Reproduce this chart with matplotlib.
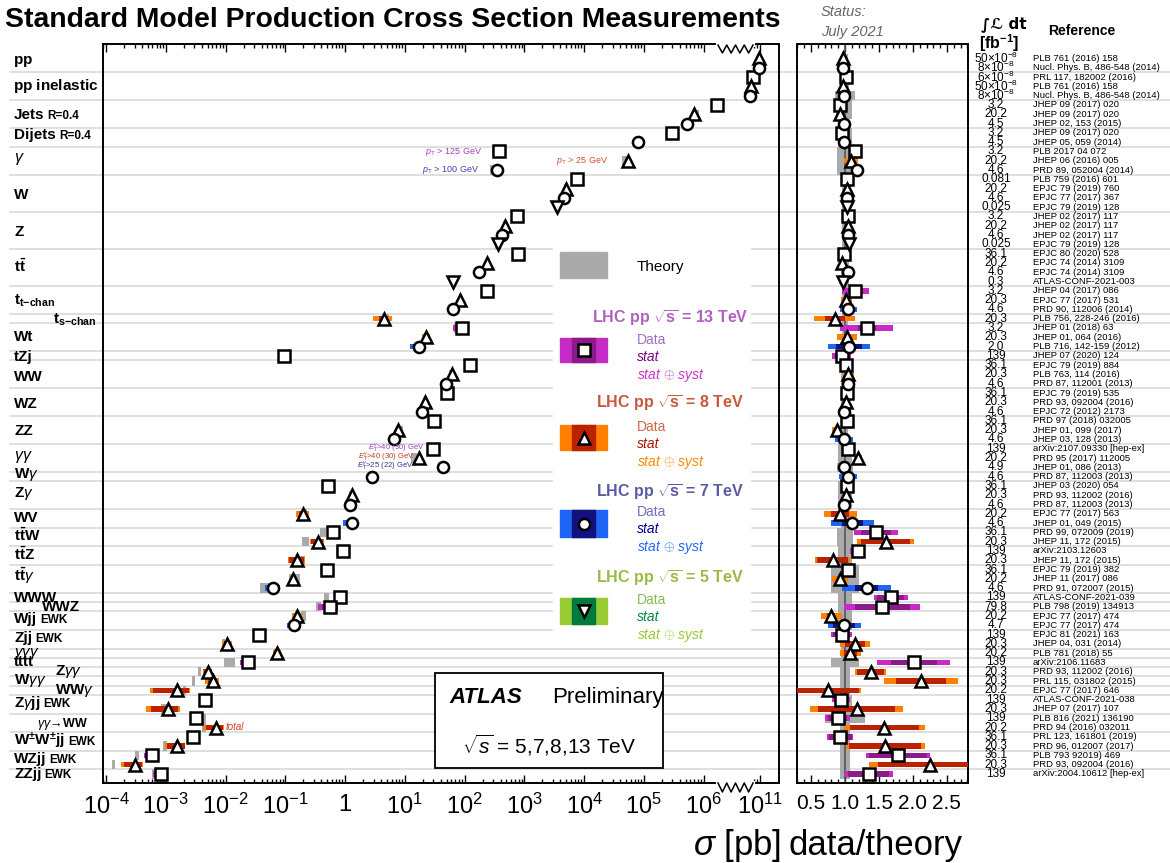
import numpy as np
import matplotlib
matplotlib.use("Agg")
import matplotlib.pyplot as plt
import matplotlib.transforms as mtransforms
from matplotlib import font_manager
from matplotlib.patches import Rectangle
from matplotlib.lines import Line2D
from matplotlib.ticker import FixedLocator, FixedFormatter, NullFormatter, MultipleLocator

# ---------------- data (one entry per measurement, top to bottom) ----------------
group_size = [2, 3, 3, 2, 3, 4, 4, 4, 3, 1, 3, 1, 3, 3, 3, 3, 1, 3, 2, 2, 2, 3,
              1, 1, 2, 2, 1, 1, 1, 1, 1, 2, 2, 2, 2, 1]

energy = [8, 7, 13, 8, 7, 13, 8, 7, 13, 7, 13, 8, 7, 13, 8, 7, 5, 13, 8, 7, 5,
          13, 8, 7, 5, 13, 8, 7, 8, 13, 8, 7, 13, 13, 8, 7, 13, 8, 7, 13, 8, 7,
          13, 8, 7, 7, 13, 8, 7, 8, 7, 13, 8, 13, 8, 13, 8, 7, 13, 13, 8, 7,
          13, 8, 8, 13, 8, 8, 8, 13, 8, 13, 8, 13, 8, 13, 8, 13]

# measured cross section [pb]
sigma = [9.6e10, 9.5e10, 7.8e10, 7.2e10, 6.9e10, 1.7e6, 6.9e5, 5.2e5, 2.9e5, 7.9e4,
         380, 5.4e4, 350, 7600, 5000, 4600, 3500, 760, 480, 430, 360,
         780, 240, 175, 65, 235, 84, 65, 4.5, 91, 23, 17, 0.095,
         123, 62, 49, 51, 22, 19, 31, 7.7, 6.6, 30, 17, 44, 2.8,
         0.52, 1.3, 1.2, 0.20, 1.3, 0.63, 0.35, 0.93, 0.16, 0.50, 0.135, 0.063,
         0.82, 0.56, 0.16, 0.14, 0.036, 0.0107, 0.073, 0.024, 0.0051, 0.0062,
         0.00155, 0.0046, 0.0011, 0.0032, 0.0069, 0.0029, 0.00155, 0.00059,
         0.00030, 0.00084]

# data / theory
ratio = [0.97, 0.975, 1.02, 0.975, 0.985, 0.93, 0.92, 0.99, 0.95, 0.99, 1.15, 1.09, 1.17,
         1.03, 1.03, 1.03, 1.03, 1.05, 1.05, 1.05, 1.06, 0.99, 0.95, 1.04, 0.97,
         1.15, 1.02, 1.05, 0.85, 1.32, 1.03, 1.06, 0.95, 1.02, 1.05, 1.05,
         1.03, 1.02, 0.99, 1.03, 0.88, 0.99, 1.05, 1.19, 0.99, 1.04, 1.03, 1.02, 0.99,
         0.93, 1.11, 1.46, 1.60, 1.19, 0.82, 1.05, 0.93, 1.32, 1.67, 1.55, 0.80, 0.99,
         0.95, 1.15, 1.08, 2.01, 1.38, 2.12, 0.75, 0.94, 1.17, 0.89, 1.58, 0.93,
         1.59, 1.78, 2.25, 1.35]

# total (stat+syst) and stat half-widths, in ratio units
tot_err = [0.03, 0.03, 0.03, 0.03, 0.03, 0.06, 0.05, 0.09, 0.06, 0.07, 0.06, 0.10, 0.07,
           0.03, 0.03, 0.03, 0.03, 0.03, 0.03, 0.03, 0.03, 0.04, 0.04, 0.04, 0.06,
           0.20, 0.08, 0.12, 0.30, 0.39, 0.15, 0.31, 0.14, 0.07, 0.08, 0.10,
           0.05, 0.05, 0.10, 0.05, 0.07, 0.13, 0.07, 0.06, 0.06, 0.13, 0.05, 0.06, 0.09,
           0.24, 0.32, 0.32, 0.42, 0.11, 0.26, 0.07, 0.12, 0.36, 0.25, 0.56, 0.15, 0.24,
           0.16, 0.22, 0.16, 0.54, 0.23, 0.55, 0.49, 0.13, 0.68, 0.19, 0.60, 0.19,
           0.58, 0.47, 0.90, 0.35]
stat_err = [0.01, 0.01, 0.01, 0.01, 0.01, 0.01, 0.01, 0.01, 0.01, 0.01, 0.01, 0.01, 0.01,
            0.005, 0.005, 0.005, 0.01, 0.005, 0.005, 0.005, 0.01, 0.01, 0.01, 0.01, 0.02,
            0.06, 0.02, 0.05, 0.15, 0.13, 0.04, 0.19, 0.09, 0.01, 0.02, 0.03,
            0.02, 0.02, 0.05, 0.02, 0.03, 0.07, 0.04, 0.02, 0.02, 0.05, 0.02, 0.02, 0.03,
            0.13, 0.16, 0.22, 0.36, 0.06, 0.23, 0.04, 0.04, 0.17, 0.20, 0.40, 0.06, 0.16,
            0.13, 0.15, 0.10, 0.34, 0.20, 0.37, 0.45, 0.10, 0.56, 0.14, 0.51, 0.17,
            0.53, 0.42, 0.76, 0.30]
# theory uncertainty half-width (relative)
theo_err = [0.05, 0.05, 0.05, 0.06, 0.15, 0.10, 0.10, 0.05, 0.10, 0.10, 0.12, 0.12, 0.12,
            0.04, 0.04, 0.04, 0.04, 0.04, 0.04, 0.04, 0.04, 0.06, 0.06, 0.06, 0.06,
            0.04, 0.04, 0.04, 0.04, 0.05, 0.05, 0.05, 0.05, 0.06, 0.06, 0.06,
            0.06, 0.06, 0.06, 0.05, 0.05, 0.05, 0.10, 0.10, 0.12, 0.08, 0.10, 0.10, 0.10,
            0.06, 0.06, 0.12, 0.12, 0.10, 0.10, 0.20, 0.20, 0.20, 0.10, 0.10, 0.10, 0.10,
            0.06, 0.06, 0.06, 0.20, 0.07, 0.07, 0.07, 0.10, 0.10, 0.30, 0.07, 0.07,
            0.07, 0.07, 0.07, 0.07]

lumi = [r'$\mathsf{50{\times}10^{-8}}$', r'$\mathsf{8{\times}10^{-8}}$', r'$\mathsf{6{\times}10^{-8}}$',
        r'$\mathsf{50{\times}10^{-8}}$', r'$\mathsf{8{\times}10^{-8}}$',
        '3.2', '20.2', '4.5', '3.2', '4.5', '3.2', '20.2', '4.6',
        '0.081', '20.2', '4.6', '0.025', '3.2', '20.2', '4.6', '0.025',
        '36.1', '20.2', '4.6', '0.3', '3.2', '20.3', '4.6', '20.3', '3.2', '20.3', '2.0',
        '139', '36.1', '20.3', '4.6', '36.1', '20.3', '4.6', '36.1', '20.3', '4.6',
        '139', '20.2', '4.9', '4.6', '36.1', '20.3', '4.6', '20.2', '4.6',
        '36.1', '20.3', '139', '20.3', '36.1', '20.2', '4.6', '139', '79.8',
        '20.2', '4.7', '139', '20.3', '20.2', '139', '20.3', '20.3', '20.2',
        '139', '20.3', '139', '20.2', '36.1', '20.3', '36.1', '20.3', '139']

refs = ['PLB 761 (2016) 158', 'Nucl. Phys. B, 486-548 (2014)', 'PRL 117, 182002 (2016)',
        'PLB 761 (2016) 158', 'Nucl. Phys. B, 486-548 (2014)', 'JHEP 09 (2017) 020',
        'JHEP 09 (2017) 020', 'JHEP 02, 153 (2015)', 'JHEP 09 (2017) 020', 'JHEP 05, 059 (2014)',
        'PLB 2017 04 072', 'JHEP 06 (2016) 005', 'PRD 89, 052004 (2014)', 'PLB 759 (2016) 601',
        'EPJC 79 (2019) 760', 'EPJC 77 (2017) 367', 'EPJC 79 (2019) 128', 'JHEP 02 (2017) 117',
        'JHEP 02 (2017) 117', 'JHEP 02 (2017) 117', 'EPJC 79 (2019) 128', 'EPJC 80 (2020) 528',
        'EPJC 74 (2014) 3109', 'EPJC 74 (2014) 3109', 'ATLAS-CONF-2021-003', 'JHEP 04 (2017) 086',
        'EPJC 77 (2017) 531', 'PRD 90, 112006 (2014)', 'PLB 756, 228-246 (2016)', 'JHEP 01 (2018) 63',
        'JHEP 01, 064 (2016)', 'PLB 716, 142-159 (2012)', 'JHEP 07 (2020) 124', 'EPJC 79 (2019) 884',
        'PLB 763, 114 (2016)', 'PRD 87, 112001 (2013)', 'EPJC 79 (2019) 535', 'PRD 93, 092004 (2016)',
        'EPJC 72 (2012) 2173', 'PRD 97 (2018) 032005', 'JHEP 01, 099 (2017)', 'JHEP 03, 128 (2013)',
        'arXiv:2107.09330 [hep-ex]', 'PRD 95 (2017) 112005', 'JHEP 01, 086 (2013)',
        'PRD 87, 112003 (2013)', 'JHEP 03 (2020) 054', 'PRD 93, 112002 (2016)',
        'PRD 87, 112003 (2013)', 'EPJC 77 (2017) 563', 'JHEP 01, 049 (2015)',
        'PRD 99, 072009 (2019)', 'JHEP 11, 172 (2015)', 'arXiv:2103.12603', 'JHEP 11, 172 (2015)',
        'EPJC 79 (2019) 382', 'JHEP 11 (2017) 086', 'PRD 91, 072007 (2015)', 'ATLAS-CONF-2021-039',
        'PLB 798 (2019) 134913', 'EPJC 77 (2017) 474', 'EPJC 77 (2017) 474', 'EPJC 81 (2021) 163',
        'JHEP 04, 031 (2014)', 'PLB 781 (2018) 55', 'arXiv:2106.11683', 'PRD 93, 112002 (2016)',
        'PRL 115, 031802 (2015)', 'EPJC 77 (2017) 646', 'ATLAS-CONF-2021-038', 'JHEP 07 (2017) 107',
        'PLB 816 (2021) 136190', 'PRD 94 (2016) 032011', 'PRL 123, 161801 (2019)',
        'PRD 96, 012007 (2017)', 'PLB 793 92019) 469', 'PRD 93, 092004 (2016)',
        'arXiv:2004.10612 [hep-ex]']

# left-hand process labels: text, x [px], y [px], size
proc_labels = [
    (r'$\mathbf{pp}$', 13, 60, 11), (r'$\mathbf{pp}$ inelastic', 13, 86, 11),
    ('Jets', 14, 115, 11), ('Dijets', 14, 135, 11), (r'$\gamma$', 14, 158, 11.5),
    ('W', 14, 195, 11), ('Z', 14, 232, 11), (r'$\mathbf{t\bar{t}}$', 14, 268, 11),
    (r'$\mathbf{t_{t\mathbf{-}chan}}$', 14, 301, 11), (r'$\mathbf{t_{s\mathbf{-}chan}}$', 53, 320, 11),
    ('Wt', 14, 337, 11), ('tZj', 14, 357, 11), ('WW', 14, 377, 11), ('WZ', 14, 404, 11),
    ('ZZ', 14, 431, 11), (r'$\gamma\gamma$', 14, 456, 11.5), (r'$\mathbf{W}\gamma$', 14, 474, 11),
    (r'$\mathbf{Z}\gamma$', 14, 493, 11), ('WV', 14, 518, 11), (r'$\mathbf{t\bar{t}W}$', 14, 537, 11),
    (r'$\mathbf{t\bar{t}Z}$', 14, 556, 11), (r'$\mathbf{t\bar{t}}\gamma$', 14, 577, 11),
    ('WWW', 14, 598, 11), ('WWZ', 42, 607, 11), ('Wjj', 14, 619, 11), ('Zjj', 14, 638, 11),
    (r'$\gamma\gamma\gamma$', 14, 652, 11), ('tttt', 14, 662, 11),
    (r'$\mathbf{Z}\gamma\gamma$', 55, 671, 11), (r'$\mathbf{W}\gamma\gamma$', 14, 680, 11),
    (r'$\mathbf{WW}\gamma$', 55, 690, 11), (r'$\mathbf{Z}\gamma\mathbf{jj}$', 14, 703, 11),
    (r'$\gamma\gamma\!\rightarrow\!\mathbf{WW}$', 37, 723, 9),
    (r'$\mathbf{W^{\pm}W^{\pm}jj}$', 14, 741, 11), ('WZjj', 14, 759, 11), ('ZZjj', 14, 774, 11)]
small_suffix = {'Jets': 'R=0.4', 'Dijets': 'R=0.4', 'Wjj': 'EWK', 'Zjj': 'EWK',
                r'$\mathbf{Z}\gamma\mathbf{jj}$': 'EWK', r'$\mathbf{W^{\pm}W^{\pm}jj}$': 'EWK',
                'WZjj': 'EWK', 'ZZjj': 'EWK'}

# ---------------- style ----------------
W_PX, H_PX = 1170, 863
names = {f.name for f in font_manager.fontManager.ttflist}
NARROW = 'Liberation Sans Narrow' if 'Liberation Sans Narrow' in names else 'Liberation Sans'
plt.rcParams['font.family'] = ['Liberation Sans', 'DejaVu Sans']
plt.rcParams['mathtext.fontset'] = 'custom'
plt.rcParams['mathtext.rm'] = 'Liberation Sans'
plt.rcParams['mathtext.it'] = 'Liberation Sans:italic'
plt.rcParams['mathtext.bf'] = 'Liberation Sans:bold'
plt.rcParams['mathtext.sf'] = NARROW

col_tot = {13: '#C82AC8', 8: '#FF8000', 7: '#1E64F5', 5: '#99CC33'}
col_stat = {13: '#8B1A8B', 8: '#BB2200', 7: '#12127F', 5: '#007A3D'}
marker = {13: 's', 8: '^', 7: 'o', 5: 'v'}
GRAY = '#AAAAAA'
MS = 8

fig = plt.figure(figsize=(W_PX / 100, H_PX / 100), dpi=100)


def fx(px):
    return px / W_PX


def fy(py):
    return 1 - py / H_PX


energy = np.array(energy)
sigma = np.array(sigma)
ratio = np.array(ratio)
tot_err = np.array(tot_err)
stat_err = np.array(stat_err)
theo_err = np.array(theo_err)
rows = np.arange(1, len(sigma) + 1)
YLIM = (78.97, -0.56)

# ---------------- cross-section panel (broken log axis) ----------------
SHIFT = 4.06


def fwd(x):
    lx = np.log10(np.maximum(np.asarray(x, dtype=float), 1e-300))
    return np.where(lx > 8.5, lx - SHIFT, lx)


def inv(u):
    u = np.asarray(u, dtype=float)
    return np.where(u > 6.5, 10.0 ** (u + SHIFT), 10.0 ** u)


ax = fig.add_axes([fx(103), fy(783), fx(779) - fx(103), fy(44) - fy(783)])
ax.set_xscale('function', functions=(fwd, inv))
ax.set_xlim(10 ** -4.05, 10 ** (7.26 + SHIFT))
ax.set_ylim(*YLIM)
ax.set_yticks([])

major = [10.0 ** k for k in range(-4, 7)] + [1e11]
major_lbl = [r'$\mathsf{10^{%d}}$' % k if k != 0 else r'$\mathsf{1}$' for k in range(-4, 7)]
major_lbl += [r'$\mathsf{10^{11}}$']
minor = [m * 10.0 ** d for d in range(-5, 6) for m in range(2, 10) if m * 10.0 ** d > 10 ** -4.05]
minor += [8e10, 9e10]
ax.xaxis.set_major_locator(FixedLocator(major))
ax.xaxis.set_major_formatter(FixedFormatter(major_lbl))
ax.xaxis.set_minor_locator(FixedLocator(minor))
ax.xaxis.set_minor_formatter(NullFormatter())
ax.tick_params(axis='x', which='both', direction='in', top=True, labelsize=17, pad=8)
ax.tick_params(axis='x', which='major', length=6, width=1)
ax.tick_params(axis='x', which='minor', length=3, width=1)
for s in ax.spines.values():
    s.set_linewidth(1.4)

# group separator lines spanning the whole width
bounds = np.cumsum(group_size)[:-1] + 0.5
x0 = (10 - 103) / 676.0
x1 = (1170 - 103) / 676.0
for b in bounds:
    ax.plot([x0, x1], [b, b], transform=ax.get_yaxis_transform(), color='#D6D6D6',
            lw=1.1, clip_on=False, zorder=0)

th_c = sigma / ratio
ax.barh(rows, th_c * 2 * theo_err, left=th_c * (1 - theo_err), height=1.0,
        color=GRAY, lw=0, zorder=2)
lo_t = sigma * np.maximum(1 - tot_err / ratio, 0.05)
hi_t = sigma * (1 + tot_err / ratio)
lo_s = sigma * np.maximum(1 - stat_err / ratio, 0.05)
hi_s = sigma * (1 + stat_err / ratio)
ax.barh(rows, hi_t - lo_t, left=lo_t, height=0.6, color=[col_tot[e] for e in energy], lw=0, zorder=3)
ax.barh(rows, hi_s - lo_s, left=lo_s, height=0.6, color=[col_stat[e] for e in energy], lw=0, zorder=3)
for e in (13, 8, 7, 5):
    m = energy == e
    ax.plot(sigma[m], rows[m], ls='none', marker=marker[e], ms=MS, mfc='white',
            mec='black', mew=1.8, zorder=5)

# ---------------- ratio panel ----------------
axr = fig.add_axes([fx(797), fy(783), fx(968) - fx(797), fy(44) - fy(783)])
axr.patch.set_alpha(0)
axr.set_xlim(0.294, 2.81)
axr.set_ylim(*YLIM)
axr.set_yticks([])
axr.xaxis.set_minor_locator(MultipleLocator(0.1))
axr.set_xticks([0.5, 1.0, 1.5, 2.0, 2.5])
axr.set_xticklabels(['0.5', '1.0', '1.5', '2.0', '2.5'], fontfamily=NARROW, fontsize=15)
axr.tick_params(axis='x', which='both', direction='in', top=True, pad=8)
axr.tick_params(axis='x', which='major', length=6, width=1)
axr.tick_params(axis='x', which='minor', length=3, width=1)
for s in axr.spines.values():
    s.set_linewidth(1.4)

axr.barh(rows, 2 * theo_err, left=1 - theo_err, height=1.0, color=GRAY, lw=0, zorder=1)
axr.axvline(1.0, color='#555555', lw=1.2, zorder=2)
axr.barh(rows, 2 * tot_err, left=ratio - tot_err, height=0.6,
         color=[col_tot[e] for e in energy], lw=0, zorder=3)
axr.barh(rows, 2 * stat_err, left=ratio - stat_err, height=0.6,
         color=[col_stat[e] for e in energy], lw=0, zorder=3)
for e in (13, 8, 7, 5):
    m = energy == e
    axr.plot(ratio[m], rows[m], ls='none', marker=marker[e], ms=MS, mfc='white',
             mec='black', mew=1.8, zorder=5, clip_on=False)

# ---------------- luminosity and references ----------------
tr = mtransforms.blended_transform_factory(fig.transFigure, axr.transData)
for i, (l, r) in enumerate(zip(lumi, refs)):
    fig.text(fx(996), rows[i], l, transform=tr, ha='center', va='center',
             fontsize=8.5, family=NARROW)
    fig.text(fx(1033), rows[i], r, transform=tr, ha='left', va='center',
             fontsize=6.8, family='Liberation Sans')

fig.text(fx(981), fy(24), '\u222b\u2112 dt', fontsize=11, weight='bold',
         family=['DejaVu Sans'], va='center')
fig.text(fx(979), fy(43), r'$\mathbf{[fb^{-1}]}$', fontsize=11.5, va='center')
fig.text(fx(1048), fy(31), 'Reference', fontsize=10, weight='bold', va='center')

# ---------------- process labels (baseline ~4 px below the row centre) ----------------
renderer = fig.canvas.get_renderer()
for txt, x, y, size in proc_labels:
    t = fig.text(fx(x), fy(y + 4), txt, fontsize=size, weight='bold', va='baseline')
    if txt in small_suffix:
        bb = t.get_window_extent(renderer)
        fig.text(fx(bb.x1 + 3), fy(y + 4), small_suffix[txt], fontsize=8.5,
                 weight='bold', va='baseline')

# ---------------- title, status, axis titles ----------------
fig.text(fx(5), fy(20), 'Standard Model Production Cross Section Measurements',
         fontsize=20.4, weight='bold', va='center')
fig.text(fx(821), fy(12), 'Status:', fontsize=10.5, style='italic', color='#666666', va='center')
fig.text(fx(821), fy(32), 'July 2021', fontsize=10.5, style='italic', color='#666666', va='center')
fig.text(fx(781), fy(845), r'$\sigma$ [pb]', fontsize=25, family=NARROW, ha='right', va='center')
fig.text(fx(789), fy(845), 'data/theory', fontsize=25, family=NARROW, ha='left', va='center')

# ---------------- in-plot annotations ----------------
fig.text(fx(482), fy(152), r'$p_\mathrm{T}$ > 125 GeV', fontsize=6.5, color='#A040C0', ha='right', va='center')
fig.text(fx(479), fy(170), r'$p_\mathrm{T}$ > 100 GeV', fontsize=6.5, color='#4040B0', ha='right', va='center')
fig.text(fx(608), fy(161), r'$p_\mathrm{T}$ > 25 GeV', fontsize=6.5, color='#D05030', ha='right', va='center')
fig.text(fx(424), fy(448), r'$E_\mathrm{T}^\gamma$>40 (30) GeV', fontsize=5.5, color='#A040C0', ha='right', va='center')
fig.text(fx(414), fy(457), r'$E_\mathrm{T}^\gamma$>40 (30) GeV', fontsize=5.5, color='#C04020', ha='right', va='center')
fig.text(fx(413), fy(466), r'$E_\mathrm{T}^\gamma$>25 (22) GeV', fontsize=5.5, color='#303090', ha='right', va='center')
fig.text(fx(226), fy(727), 'total', fontsize=7, color='#D04020', style='italic', va='center')

# ---------------- axis break marks ----------------
zx = np.linspace(718, 753, 9)
for base, amp in ((783, 9), (45, 8)):
    fig.add_artist(Line2D([fx(718), fx(753)], [fy(base), fy(base)], color='white', lw=3, zorder=5))
    zy = [base if k % 2 == 0 else base + amp for k in range(9)]
    fig.add_artist(Line2D(fx(zx), [fy(v) for v in zy], color='black', lw=1.1, zorder=6))

# ---------------- legend ----------------
fig.add_artist(Rectangle((fx(553), fy(645)), fx(750) - fx(553), fy(243) - fy(645),
                         transform=fig.transFigure, color='white', zorder=2))
fig.add_artist(Rectangle((fx(560), fy(278)), fx(47), fy(0) - fy(26),
                         transform=fig.transFigure, color=GRAY, zorder=3))
fig.text(fx(637), fy(267), 'Theory', fontsize=11, va='center', zorder=4)

leg = [(13, 318, 338, 362, '#B060C0', '#A070C0', '#800080', '#CC33CC'),
       (8, 403, 425, 450, '#C8583A', '#CC6644', '#AA1100', '#FF8800'),
       (7, 492, 510, 537, '#5A5AA5', '#7070B8', '#000090', '#2266FF'),
       (5, 578, 598, 624, '#99BB44', '#88BB55', '#008844', '#99CC33')]
for e, ty, b0, b1, ct, cd, cs, cy in leg:
    fig.text(fx(670), fy(ty), r'LHC pp $\mathbf{\sqrt{s}}$ = %d TeV' % e, fontsize=11.5,
             weight='bold', color=ct, ha='center', va='center', zorder=4)
    fig.add_artist(Rectangle((fx(560), fy(b1)), fx(47), fy(0) - fy(b1 - b0),
                             transform=fig.transFigure, color=col_tot[e], zorder=3))
    fig.add_artist(Rectangle((fx(572), fy(b1)), fx(23), fy(0) - fy(b1 - b0),
                             transform=fig.transFigure, color=col_stat[e], zorder=3))
    fig.add_artist(Line2D([fx(583.5)], [fy((b0 + b1) / 2)], marker=marker[e], ms=MS,
                          mfc='white', mec='black', mew=1.8, zorder=4))
    fig.text(fx(637), fy(b0 + 2), 'Data', fontsize=10, color=cd, va='center', zorder=4)
    fig.text(fx(637), fy(b0 + 19), 'stat', fontsize=10, color=cs, style='italic', va='center', zorder=4)
    fig.text(fx(637), fy(b0 + 37), r'stat $\oplus$ syst', fontsize=10, color=cy, style='italic',
             va='center', zorder=4)

# ---------------- ATLAS box ----------------
fig.add_artist(Rectangle((fx(435), fy(768)), fx(663) - fx(435), fy(673) - fy(768),
                         transform=fig.transFigure, facecolor='white', edgecolor='black',
                         lw=1.3, zorder=3))
fig.text(fx(449), fy(697), 'ATLAS', fontsize=16, weight='bold', style='italic', va='center', zorder=4)
fig.text(fx(552), fy(697), 'Preliminary', fontsize=16, va='center', zorder=4)
fig.text(fx(549), fy(745), r'$\sqrt{s}$ = 5,7,8,13 TeV', fontsize=15, ha='center', va='center', zorder=4)

fig.savefig('out.png', dpi=100)
